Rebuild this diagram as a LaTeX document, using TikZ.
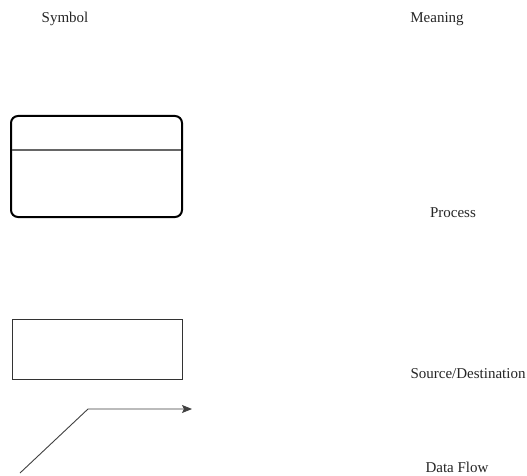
\documentclass[tikz,border=0pt]{standalone}
\usepackage{fontspec}
\setmainfont{Liberation Serif}
\usetikzlibrary{arrows.meta}
\begin{document}
\begin{tikzpicture}[x=1pt,y=-1pt,
  lbl/.style={font=\fontsize{15}{18}\selectfont, text=black!85, inner sep=0pt, anchor=center},
  procbox/.style={draw=black, line width=2pt, rounded corners=7pt},
  srcbox/.style={draw=black!80, line width=1pt},
  flow/.style={draw=black!75, line width=0.9pt, -{Stealth[length=10pt,width=8pt,inset=2pt]}}]
\useasboundingbox[fill=white] (0,0) rectangle (527,476);
\node[lbl] (hsym) at (65,19) {Symbol};
\node[lbl] (hmean) at (437,19) {Meaning};
% process
\draw[procbox] (11,116) rectangle (182,217);
\coordinate (pl) at (12,150);
\coordinate (pr) at (181,150);
\draw[black!60, line width=1.2pt] (pl) -- (pr);
\node[lbl] (proc) at (453,213) {Process};
% source
\draw[srcbox] (12,319) rectangle (182,379);
\node[lbl] (src) at (468,374) {Source/Destination};
% data flow
\coordinate (f0) at (20,473);
\coordinate (f1) at (88,409);
\coordinate (f2) at (192,409);
\draw[flow] (f0) -- (f1) -- (f2);
\node[lbl] (df) at (457,467) {Data Flow};
\end{tikzpicture}
\end{document}
